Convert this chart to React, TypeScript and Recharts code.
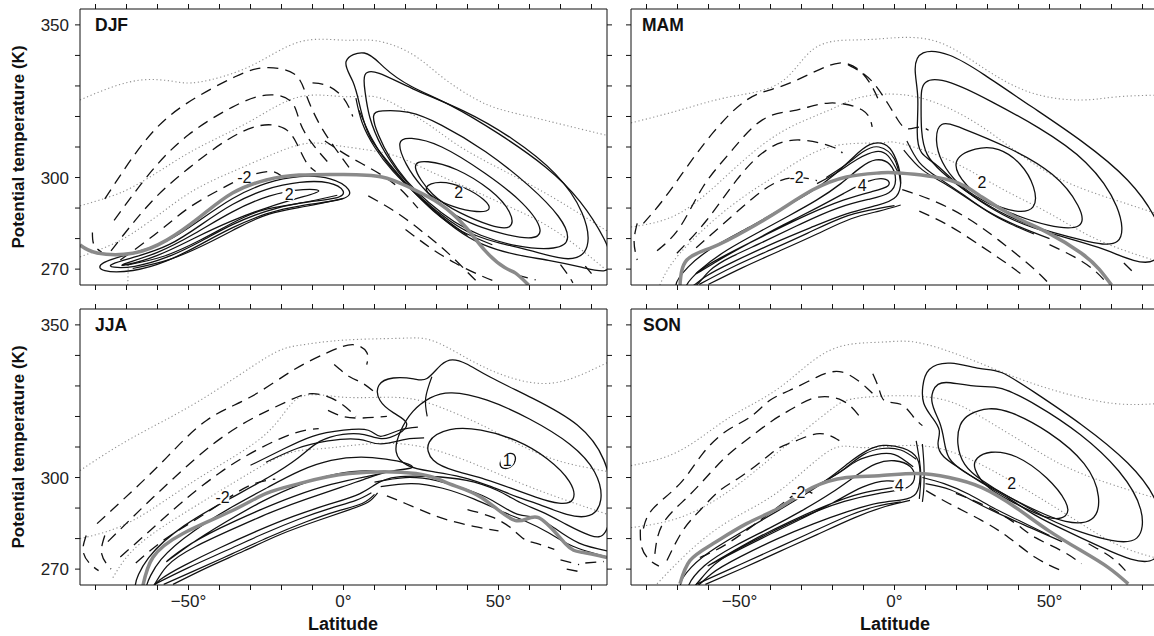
import React from 'react';
import { LineChart, Line, XAxis, YAxis, ReferenceDot } from 'recharts';

type P = [number, number];
interface Lab { lat: number; t: number; v: string }

const LAT_TICKS = [-80, -70, -60, -50, -40, -30, -20, -10, 0, 10, 20, 30, 40, 50, 60, 70, 80];
const LAT_LABELS = [-50, 0, 50];
const THETA_TICKS = [270, 280, 290, 300, 310, 320, 330, 340, 350];
const THETA_LABELS = [270, 300, 350];
const LAT_DOMAIN: [number, number] = [-85, 85];
const THETA_DOMAIN: [number, number] = [264.8, 355.2];

// ---------- DJF ----------
const DJF_DOTTED: P[][] = [
  [[-85, 325.4], [-75, 329.5], [-64.7, 332], [-55, 331.5], [-46.4, 331.3], [-30, 336.5], [-14.3, 344.4], [0, 345], [10.5, 344.8], [22, 340.5], [31.7, 333], [41.4, 326.4], [50, 322.5], [60.7, 319.8], [72, 317], [85, 313.8]],
  [[-85, 290.7], [-76, 293.5], [-68, 296.9], [-58, 303], [-46.4, 310], [-30, 318.5], [-14.3, 326.4], [0, 326.5], [10.5, 326.4], [20, 322], [28.5, 316.6], [39.4, 309], [55.5, 300.2], [70, 292], [85, 282.5]],
  [[-85, 274], [-76, 277.5], [-68, 281.8], [-58, 289], [-46.4, 296.9], [-30, 304.5], [-14.3, 310.7], [-3.6, 310.7], [8, 309], [17.9, 306.7], [28, 302], [39.4, 296.9], [50, 292], [60.7, 287], [72, 280], [85, 269.5]],
  [[-69.6, 264.8], [-69.4, 272]],
];
const DJF_SURFACE: P[] = [[-85, 277.9], [-79.5, 275.3], [-68, 275.2], [-57, 279.5], [-46.4, 287], [-35.8, 294.9], [-24.9, 299.2], [-14.3, 300.8], [0, 301], [12.4, 300.2], [21, 296.9], [30.8, 291.6], [39.4, 283.8], [45.9, 275.8], [52, 270.5], [55.5, 268.7], [59.7, 264.8]];
const DJF_POS: P[][] = [
  [[-79.5, 272], [-68, 275.2], [-57, 278.5], [-46.4, 286], [-35.8, 293.6], [-24.9, 298.5], [-14.3, 300.8], [-3.6, 300.2], [2.8, 296], [1.8, 292.6], [-14.3, 291], [-24.9, 288.4], [-35.8, 283.8], [-46.4, 277.9], [-57, 272.3], [-68, 269], [-78.6, 269]],
  [[-76, 271.5], [-67, 274], [-56, 277.5], [-46, 284.5], [-36, 291.5], [-25, 296.5], [-14, 298.8], [-4, 298.8], [1, 295.5], [-1, 293], [-14, 292], [-25, 289.2], [-36, 284.8], [-46, 279], [-57, 273.5], [-68, 270.4], [-75, 270.5]],
  [[-72, 271.5], [-60, 275], [-48, 281.5], [-36, 289], [-24, 294.5], [-12, 296.5], [-6, 295.8], [-12, 294], [-24, 290.5], [-36, 286], [-48, 280.3], [-60, 274], [-72, 270.8]],
  [[-1.4, 338.5], [7.3, 342.5], [12.4, 336.2], [21.1, 329.7], [34, 324.4], [50, 314.6], [66, 303.4], [76.7, 292.6], [85, 279], [87, 272], [85, 268.5], [76.7, 270.7], [66, 273], [56, 274.5], [45, 277.5], [36, 283], [27, 291], [20, 298], [14, 305.5], [8, 313], [5.5, 322], [3.5, 332]],
  [[6, 334.6], [10.5, 335.2], [21.1, 329.3], [39.4, 322], [54.2, 313.3], [69.3, 301.5], [78, 288.4], [80, 276.2], [73.5, 272], [60.7, 276.2], [50, 278.5], [42, 281], [35, 285], [25, 293], [18, 301], [12, 310], [8, 320], [7, 328]],
  [[8.9, 321], [11.5, 322], [21.1, 322], [30.8, 317.9], [45.9, 309], [60.7, 296.9], [70.3, 287], [73.5, 279.5], [69.3, 276.2], [55.5, 277.2], [43.6, 281.1], [36, 285], [27, 292], [20, 299], [15, 306], [11, 314]],
  [[17, 312.3], [21.1, 313.3], [30.8, 311.3], [45.9, 301.5], [58.7, 291.6], [65.2, 281.8], [60.7, 279.5], [50, 281.8], [40.4, 285], [32, 290], [25, 297], [20, 304]],
  [[21.1, 304.8], [26.6, 305.7], [36.2, 303.4], [48, 296], [54.6, 288.4], [54.6, 282.8], [48, 283.8], [37.2, 288.4], [28.5, 293.6]],
  [[25.3, 296.9], [30.8, 299.2], [39.4, 296.9], [45.9, 292.6], [48, 289.3], [43.6, 288.4], [35, 290.3], [28.5, 293.6]],
];
const DJF_BUNDLE: P[][] = [
  [[-70, 271.3], [-58, 274.2], [-46, 279.6], [-36, 285], [-26, 289.3], [-14, 291.6], [-2, 294.2]],
  [[-68, 270.2], [-56, 273.2], [-44, 278.4], [-34, 283.6], [-24, 288], [-12, 290.6], [0, 293.2]],
  [[4, 326], [6, 318], [10, 310], [16, 302], [24, 294], [32, 287], [40, 281]],
  [[5, 322], [9, 313], [14, 305], [21, 297], [29, 289], [38, 282.5], [48, 278]],
];
const DJF_NEG: P[][] = [
  [[-77, 293], [-64, 312], [-51, 324], [-35, 333], [-25, 336], [-16, 334], [-12, 327], [-8, 318], [-3, 310], [2, 303]],
  [[-74, 286], [-62, 302], [-50, 314], [-36, 323], [-25, 327], [-17, 325], [-14, 318], [-10, 311], [-5, 305]],
  [[-75, 276], [-62, 292], [-50, 303], [-38, 312], [-27, 317], [-19, 316], [-15, 311], [-12, 305], [-9, 302]],
  [[-72, 273], [-60, 282], [-50, 290], [-40, 296], [-32, 300], [-24, 302], [-20, 300.5]],
  [[-81, 282], [-80.5, 278], [-78, 275.5]],
  [[-10, 331], [-5, 330], [0, 326], [3, 320]],
  [[-6, 312], [0, 308], [6, 304.5], [12, 301], [18, 296.5], [24, 290]],
  [[8, 294], [14, 290.5], [20, 286.5], [27, 281], [34, 275], [40, 269], [44, 265]],
  [[20, 283], [28, 277], [36, 272], [44, 268], [50, 265.5]],
  [[56, 268], [62, 266.5]],
  [[70, 271.5], [72.5, 268], [74, 265.5]],
  [[78, 271], [80, 268.5]],
];
const DJF_LABELS: Lab[] = [{ lat: -32, t: 300, v: '-2' }, { lat: -17.5, t: 294.5, v: '2' }, { lat: 37.2, t: 295, v: '2' }];

// ---------- MAM ----------
const MAM_DOTTED: P[][] = [
  [[-85, 317.9], [-69.2, 322.1], [-53.2, 326.4], [-37, 331], [-26.5, 341.8], [-15.5, 345], [-5, 345.4], [12.1, 345], [28.2, 336.2], [44.3, 327.7], [60.3, 325.4], [71.3, 326.4], [85, 327]],
  [[-85, 283.8], [-69.2, 288.4], [-53.2, 301.5], [-37, 314.6], [-21, 322.1], [-10.4, 326.4], [7, 326.4], [28.2, 316.6], [49.7, 301.5], [71.3, 292.6], [85, 288]],
  [[-75.7, 264.8], [-69.2, 275.2], [-53.2, 290.3], [-37, 301.5], [-21, 310], [-5, 311.3], [1.5, 311.3], [17.6, 305.7], [33.6, 296.9], [49.7, 288.4], [65.8, 279.5], [85, 272.5]],
];
const MAM_SURFACE: P[] = [[-69.2, 264.8], [-67, 273], [-58.6, 277.2], [-47.7, 282.8], [-37, 289.3], [-26.5, 295.9], [-15.5, 300.2], [-5, 301.5], [1.5, 301.5], [17.6, 299.2], [28.2, 293.6], [39.1, 287], [49.7, 281.8], [60.3, 275.2], [66, 270], [70, 264.8]];
const MAM_POS: P[][] = [
  [[-72.5, 263], [-67, 271], [-58.6, 277.5], [-47, 283.5], [-37, 289.5], [-27, 295], [-19, 301], [-13, 307], [-8, 311.5], [-3, 311.5], [0, 308], [2.5, 300], [1.5, 293], [-5, 291], [-15.5, 288.4], [-26, 284], [-37, 279.5], [-53, 272], [-62, 267.4], [-66, 263]],
  [[-69, 263], [-63, 270], [-54, 276.5], [-44, 282], [-34, 287.5], [-25, 292.5], [-17, 298], [-11, 303.5], [-6, 306.5], [-1, 305], [1, 299], [-1, 294.5], [-8, 293], [-18, 290.5], [-30, 285], [-42, 279], [-53, 274], [-60, 270], [-64.5, 263]],
  [[-66, 267], [-56, 273.5], [-46, 279], [-36, 284.5], [-26, 289.5], [-16, 295], [-8, 299.5], [-2, 300], [-1, 297], [-7, 295.5], [-16, 293], [-28, 288], [-40, 282], [-52, 276], [-62, 270.5]],
  [[7, 314], [8, 327], [6, 336], [8, 342], [17.6, 341], [28.2, 334.3], [44.3, 323.1], [60.3, 312.3], [76.4, 299.2], [85, 286], [87, 279], [85, 272], [77.7, 272], [66.8, 277.2], [49.7, 281.8], [39, 285.5], [30.4, 290.3], [20.8, 296.9], [13.4, 304.8], [8, 307.5]],
  [[8.6, 332.6], [17.6, 332], [30.4, 325.4], [46.5, 316.6], [62.6, 305.7], [73.2, 290.3], [74.5, 276.2], [60.3, 279.5], [44.3, 283.8], [33, 289], [22, 296], [15, 302], [10, 307], [8.5, 315], [8.6, 325]],
  [[14.4, 318.9], [20.8, 316.6], [36.9, 310], [52, 301.5], [60.3, 290.3], [61.6, 282.8], [49.7, 283.8], [36.9, 288.4], [28, 292.5], [20, 298], [15, 305], [13, 312]],
  [[17.6, 305.7], [26.3, 310], [33.6, 310], [41, 304.8], [45.5, 296.9], [45.9, 289.3], [39.1, 288.4], [30.4, 291.6], [23, 296.9]],
];
const MAM_BUNDLE: P[][] = [
  [[-63, 265], [-52, 270.8], [-40, 276.3], [-28, 281.8], [-17, 286.8], [-8, 289.3], [0, 290.8]],
  [[-60, 265], [-49, 270.5], [-37, 276], [-25, 281.5], [-14, 286.5], [-5, 289], [2, 291]],
  [[-22, 300], [-16, 304], [-10, 308.5], [-5, 310], [0, 306], [2, 298]],
  [[-25, 298], [-18, 302], [-12, 306], [-6, 308.5], [-2, 307], [1, 302]],
  [[4, 312], [8, 305], [14, 300], [22, 294.5], [30, 289], [40, 284], [50, 280]],
  [[3, 309], [9, 302.5], [17, 297.5], [26, 291.5], [35, 286], [45, 281.5]],
];
const MAM_NEG: P[][] = [
  [[-81, 285], [-74.7, 292.6], [-67, 303.4], [-58.6, 314.6], [-47.7, 325.4], [-37, 329.7], [-26.5, 334.3], [-17.8, 337.5], [-11.4, 335.2], [-7.2, 329.7], [-5, 325]],
  [[-76.6, 276], [-69.2, 283.8], [-61.8, 296.9], [-53.2, 308], [-42.6, 318.9], [-31.6, 322.1], [-21, 324.4], [-10.4, 322.1], [-7.2, 316.6]],
  [[-70.2, 275.2], [-60.6, 286], [-50.9, 299.2], [-41.3, 309], [-30.7, 312.3], [-20, 310], [-16.8, 308]],
  [[-64, 277], [-55, 285], [-46, 293], [-38, 298.5], [-31, 300], [-25, 299]],
  [[-83, 285], [-84, 279], [-83, 273]],
  [[-15, 337], [-10, 334], [-6, 330], [-2, 324], [1, 319], [4, 316], [8, 316.5], [11, 315.5]],
  [[2.5, 296], [12.1, 292.6], [23, 287], [33.6, 279.5], [44.3, 270.7], [49.7, 265.4]],
  [[8, 289], [18, 284], [28, 277.5], [36, 272], [42, 267.5]],
  [[50, 278], [58, 274], [64, 270], [68, 266]],
  [[74, 272], [78, 268]],
];
const MAM_LABELS: Lab[] = [{ lat: -31.6, t: 300, v: '-2' }, { lat: -10.4, t: 297.5, v: '4' }, { lat: 28.2, t: 298.5, v: '2' }];

// ---------- JJA ----------
const JJA_DOTTED: P[][] = [
  [[-85, 302.3], [-68, 313.1], [-46.4, 325.2], [-24.9, 339.3], [-14.3, 343.3], [0, 345], [17.9, 345.6], [28.5, 344.9], [39.4, 339.3], [50, 334.1], [60.7, 331.1], [71.6, 331.8], [85, 337.6]],
  [[-85, 280], [-68, 285.9], [-46.4, 300], [-24.9, 314.4], [-14.3, 326.2], [0, 326.3], [17.9, 326.2], [30, 323.5], [39.4, 319.6], [50, 314.4], [66, 306.6], [85, 302]],
  [[-74.4, 267.2], [-65.7, 278.3], [-46.4, 291.5], [-24.9, 304.6], [-14.3, 308.8], [-3.6, 309.8], [17.9, 311.1], [39.4, 305.6], [60.7, 296.7], [85, 288]],
];
const JJA_SURFACE: P[] = [[-64.7, 264.6], [-61.5, 273.8], [-51.9, 281.6], [-35.8, 289.2], [-24.9, 294.8], [-14.3, 298], [1.8, 301.3], [23.4, 301.3], [34, 298], [44.6, 293.4], [55.5, 285.9], [62.9, 286.9], [71.6, 278.3], [77, 275.5], [85, 273.8]];
const JJA_POS: P[][] = [
  [[-69, 262], [-64, 274], [-52, 284.5], [-36, 293.5], [-24, 300], [-14, 306.5], [-8, 312.5], [0, 314.5], [7, 314.5], [12, 312], [18, 314], [22, 318], [16, 321], [11, 325], [10.5, 330.8], [15.6, 333.1], [23.4, 332.4], [26.6, 331.1], [31.7, 337.7], [35, 339], [39.4, 337.7], [45.9, 333.4], [60.7, 326.2], [76.7, 317.7], [85, 306], [87, 293], [85, 280], [80, 280.5], [72, 284.5], [64, 289], [57, 291.5], [50, 296], [40, 299.5], [28, 300.5], [16, 300.5], [11, 298.5], [6, 294.5], [-4, 291.5], [-16, 287.5], [-28, 282.5], [-40, 277], [-52, 271], [-60, 266.5], [-63, 262]],
  [[22, 322], [28, 326.5], [34, 328.5], [46, 326], [60, 319.5], [74, 311], [82, 302], [84, 292], [80, 286.5], [72, 287.5], [64, 291], [56, 293.5], [48, 297], [38, 300.5], [28, 302], [20, 303.5], [16, 308], [18, 315]],
  [[26, 312], [34, 316.5], [44, 316], [56, 312.5], [66, 306.5], [74, 298.5], [75, 292], [70, 291], [62, 293.5], [54, 296.5], [46, 299.5], [36, 302], [28, 305]],
  [[50, 305], [53, 308.5], [56, 307.5], [55, 303.5], [51, 302.5]],
  [[-65, 262], [-60, 273.5], [-48, 283], [-36, 290.5], [-24, 297], [-14, 302.5], [-4, 306], [6, 307], [14, 306], [20, 305], [24, 303], [16, 302.5], [8, 300], [0, 297], [-12, 293], [-24, 288.5], [-36, 283], [-48, 277.5], [-58, 271.5], [-62, 262]],
  [[-60, 270], [-50, 278], [-38, 285.5], [-26, 292.5], [-14, 298], [-2, 301.5], [8, 302.5], [14, 301.5], [8, 300.5], [-4, 298], [-16, 294], [-28, 289], [-40, 283.5], [-52, 277]],
];
const JJA_BUNDLE: P[][] = [
  [[-61, 265], [-50, 270.5], [-38, 276], [-26, 281.5], [-14, 286.5], [-4, 290], [4, 292.5], [9, 295]],
  [[-58, 265], [-48, 269.5], [-36, 275], [-24, 280.5], [-12, 285.5], [-2, 289], [6, 291.5], [10, 294.5]],
  [[-55, 265], [-44, 270.5], [-32, 276], [-20, 281.5], [-8, 286], [2, 289.5], [8, 292], [11, 295]],
  [[-30, 304], [-20, 309], [-10, 313.5], [0, 315.5], [8, 315.5], [12, 313.5], [18, 315.5], [24, 316.5]],
  [[-25, 305], [-15, 309.5], [-5, 312], [5, 312.5], [12, 311], [20, 312.5], [26, 313]],
  [[10, 298.5], [20, 300], [30, 299], [40, 296], [48, 292.5], [56, 288], [62, 287], [68, 283.5], [76, 278.5], [85, 276]],
  [[12, 297], [22, 298], [32, 296.5], [42, 293], [52, 288.5], [58, 286], [66, 282], [74, 277.5], [85, 274]],
  [[27, 320], [26.5, 326], [28.5, 333]],
];
const JJA_NEG: P[][] = [
  [[-79.5, 284.9], [-68, 295.7], [-57, 306.6], [-44.2, 318.7], [-30.3, 326.2], [-16.5, 335], [-5, 341], [3, 343.5], [7.5, 341], [7.5, 337]],
  [[-76, 279], [-65, 290], [-54, 300.5], [-42, 311], [-30, 319], [-18, 325], [-10, 327.5], [-2, 325], [4, 320]],
  [[-72, 274], [-62, 283], [-52, 292], [-40, 301.5], [-28, 309], [-16, 314.5], [-8, 316]],
  [[-67, 272], [-58, 279.5], [-48, 286], [-39, 292], [-30, 297.5], [-22, 299.5]],
  [[-83, 281], [-84, 276], [-82, 272], [-79, 269.5]],
  [[-77, 281], [-78, 275], [-75, 270]],
  [[-3, 337], [2, 333], [6, 331], [10, 328]],
  [[-5, 322], [0, 320], [6, 319.5], [14, 320]],
  [[14, 294], [20, 291.5], [27, 288.5], [34, 286], [42, 284], [50, 282.5]],
  [[40, 289.5], [48, 287], [54, 283.5], [58, 280], [62, 278.5], [68, 276.5]],
  [[70, 273], [76, 271.5]],
  [[78, 272], [84, 272.5]],
  [[72, 270], [77, 269]],
];
const JJA_LABELS: Lab[] = [{ lat: -39, t: 293.5, v: '-2' }, { lat: 52.8, t: 305.5, v: '1' }];

// ---------- SON ----------
const SON_DOTTED: P[][] = [
  [[-85, 303.9], [-69.2, 308.8], [-53.2, 319.7], [-37, 329.5], [-21, 341.6], [-5, 344.3], [7, 344.3], [23, 339.3], [39.1, 332.8], [55.2, 327.5], [71.3, 324.2], [85, 324.2]],
  [[-85, 283.6], [-69.2, 286.9], [-53.2, 295.7], [-37, 308.8], [-21, 321.9], [-10.4, 326.2], [12.1, 326.2], [28.2, 319.7], [44.3, 309.8], [60.3, 301.3], [85, 293]],
  [[-76.6, 265.2], [-66, 276], [-53.2, 285.9], [-37, 295.7], [-21, 308.8], [-10.4, 309.8], [7, 310.5], [23, 306.6], [39.1, 298], [55.2, 288.1], [71.3, 278.3], [85, 273.5]],
];
const SON_SURFACE: P[] = [[-69.2, 265.2], [-66, 272.8], [-58.6, 278.3], [-47.7, 284.9], [-37, 290.2], [-26.5, 296.7], [-15.5, 300], [-5, 300.6], [7, 301.3], [17.6, 300], [28.2, 296.7], [39.1, 290.2], [49.7, 282.6], [60.3, 276], [69, 270.5], [75.4, 265.2]];
const SON_POS: P[][] = [
  [[-71, 263], [-66, 271], [-58, 277], [-47, 283.5], [-37, 289.5], [-27, 295.5], [-20, 300.5], [-14, 305.5], [-9, 309], [-4, 311], [3, 310], [8, 307], [8.5, 300], [7.5, 294], [3, 292.5], [-5, 292], [-15, 289], [-26, 285], [-38, 280], [-50, 274], [-60, 268.5], [-64, 263]],
  [[-68, 263], [-62, 271.5], [-52, 277.5], [-40, 283.5], [-30, 289], [-20, 295], [-12, 301], [-6, 305], [0, 306], [6, 304], [7, 299], [4, 296], [-5, 295], [-16, 292.5], [-28, 288], [-40, 282], [-52, 276], [-60, 270.5], [-65, 263]],
  [[-63, 269.5], [-52, 275.5], [-40, 281.5], [-30, 286.5], [-20, 291.5], [-10, 297.5], [-2, 299.5], [3, 298], [0, 296.5], [-10, 295.5], [-22, 291], [-34, 285.5], [-46, 279.5], [-56, 273.5]],
  [[8.9, 329.5], [10.2, 336.1], [17.6, 338.4], [28.2, 335.1], [33.6, 335.7], [44.3, 328.5], [60.3, 317.7], [76.4, 304.6], [85, 293], [87, 282], [85, 271.5], [76.4, 272.8], [66.8, 277.1], [55.2, 282.6], [45, 287.5], [36.9, 293.4], [28.2, 298], [20.8, 303.3], [15.3, 306.6], [13.4, 311.1], [15.3, 315.4], [12.1, 319.7], [8.9, 324.2]],
  [[11, 325], [13.4, 331.8], [19.8, 330.8], [28.2, 329.5], [33.6, 330.2], [45.5, 324.2], [60.3, 314.4], [73.2, 302.3], [80.9, 289.2], [79.6, 278.3], [70, 279], [60, 282], [50, 286], [40, 292], [30, 297.5], [22, 302], [17, 306], [16, 312], [15, 318]],
  [[20.8, 317.7], [24, 321], [30.4, 323], [36.9, 322], [49.7, 315.4], [62.6, 304.6], [66.8, 293.4], [64.8, 284.9], [55.2, 284.9], [45.5, 289.2], [36, 294], [28, 299], [22, 304], [20, 311]],
  [[25, 303.3], [26.3, 306.6], [30.4, 308.8], [39.1, 307.9], [49.7, 300], [56.2, 291.5], [56.2, 286.9], [49.7, 285.9], [39.1, 291.5], [30, 296]],
];
const SON_BUNDLE: P[][] = [
  [[-64, 265], [-52, 270.5], [-40, 276], [-28, 281.5], [-16, 287], [-6, 290.5], [2, 292]],
  [[-61, 265], [-49, 270.3], [-37, 275.8], [-25, 281.3], [-13, 286.8], [-3, 290.5], [5, 292.5]],
  [[-22, 299], [-16, 303], [-10, 307.5], [-4, 309.5], [2, 309], [7, 306]],
  [[-25, 297.5], [-18, 301.5], [-12, 305.5], [-6, 307.5], [0, 307.5], [6, 303.5]],
  [[7, 312], [8, 306], [8.5, 300], [8, 293]],
  [[9, 311], [9.5, 304], [9.5, 297], [9, 292]],
  [[9, 300], [16, 298], [24, 294.5], [32, 290], [40, 286], [50, 281]],
  [[10, 298], [18, 296], [26, 292], [34, 288], [44, 283.5], [54, 279]],
];
const SON_NEG: P[][] = [
  [[-81, 283.3], [-77.9, 289.8], [-69.2, 298], [-61.8, 307.9], [-54, 315.4], [-46.7, 319.7], [-40.3, 325.2], [-33.9, 328.5], [-25.2, 332.8], [-16.8, 334.5], [-9.1, 329.5], [-5.9, 326.2]],
  [[-77.3, 275], [-74.7, 284.9], [-67, 293.4], [-59.6, 301.3], [-53.2, 307.9], [-46.7, 313.1], [-39.3, 318.7], [-32.9, 322.6], [-25.2, 326.2], [-16.8, 325.2], [-11.4, 320.2]],
  [[-73.4, 272.8], [-68.3, 282.6], [-62.8, 289.2], [-56.4, 295.7], [-50, 300], [-42.6, 305.6], [-37.1, 309.8], [-31.6, 312.1], [-24.2, 314.4], [-17.8, 312.1]],
  [[-62.8, 273.8], [-54, 278.3], [-43.5, 285.9], [-34.8, 292.5], [-29.7, 295.8], [-26.5, 294.8]],
  [[-82, 283], [-81.5, 277], [-79, 273], [-76, 271]],
  [[-7, 334], [-5, 329], [-3, 325], [2, 324], [6, 320], [9, 317]],
  [[10.2, 295.7], [17.6, 291.5], [28.2, 285.9], [36.9, 280.3], [45.5, 273.8], [53.9, 269.5]],
  [[19.8, 294.8], [30.4, 290.2], [39.1, 284.9], [45.5, 280.3], [53.9, 276], [60.3, 271.8]],
  [[62.6, 278.3], [70, 273.8], [74.5, 269.5]],
];
const SON_LABELS: Lab[] = [{ lat: -31, t: 295, v: '-2' }, { lat: 1.5, t: 297.3, v: '4' }, { lat: 37.8, t: 298, v: '2' }];

interface Season {
  name: string;
  dotted: P[][];
  surface: P[];
  pos: P[][];
  bundle: P[][];
  neg: P[][];
  labels: Lab[];
}

const SEASONS: Season[] = [
  { name: 'DJF', dotted: DJF_DOTTED, surface: DJF_SURFACE, pos: DJF_POS, bundle: DJF_BUNDLE, neg: DJF_NEG, labels: DJF_LABELS },
  { name: 'MAM', dotted: MAM_DOTTED, surface: MAM_SURFACE, pos: MAM_POS, bundle: MAM_BUNDLE, neg: MAM_NEG, labels: MAM_LABELS },
  { name: 'JJA', dotted: JJA_DOTTED, surface: JJA_SURFACE, pos: JJA_POS, bundle: JJA_BUNDLE, neg: JJA_NEG, labels: JJA_LABELS },
  { name: 'SON', dotted: SON_DOTTED, surface: SON_SURFACE, pos: SON_POS, bundle: SON_BUNDLE, neg: SON_NEG, labels: SON_LABELS },
];

const toPts = (arr: P[]) => arr.map(([lat, t]) => ({ lat, t }));

const INK = '#111';
const blank = () => '';

const common = {
  dot: false as const,
  activeDot: false as const,
  isAnimationActive: false,
  xAxisId: 'b',
  yAxisId: 'l',
  dataKey: 't',
  legendType: 'none' as const,
};

const Panel = ({ s, showY, showX }: { s: Season; showY: boolean; showX: boolean }) => {
  const height = showX ? 336 : 300;
  return (
    <LineChart width={620} height={height} margin={{ top: 0, right: 0, bottom: 0, left: 0 }}>
      <XAxis
        xAxisId="b"
        type="number"
        dataKey="lat"
        domain={LAT_DOMAIN}
        allowDataOverflow
        ticks={LAT_TICKS}
        interval={0}
        height={showX ? 51 : 15}
        tickSize={5}
        tickMargin={5}
        stroke={INK}
        tick={{ fill: '#222', fontSize: 17 }}
        tickFormatter={showX ? (v: number) => (LAT_LABELS.includes(v) ? `${v < 0 ? '\u2212' + Math.abs(v) : v}°` : '') : blank}
      />
      <XAxis
        xAxisId="t"
        orientation="top"
        type="number"
        dataKey="lat"
        domain={LAT_DOMAIN}
        allowDataOverflow
        ticks={LAT_TICKS}
        interval={0}
        height={9}
        tickSize={5}
        stroke={INK}
        tickFormatter={blank}
      />
      <YAxis
        yAxisId="l"
        type="number"
        domain={THETA_DOMAIN}
        allowDataOverflow
        ticks={THETA_TICKS}
        interval={0}
        width={80}
        tickSize={5}
        tickMargin={6}
        stroke={INK}
        tick={{ fill: '#222', fontSize: 17 }}
        tickFormatter={showY ? (v: number) => (THETA_LABELS.includes(v) ? String(v) : '') : blank}
        label={
          showY
            ? {
                value: 'Potential temperature (K)',
                angle: -90,
                position: 'insideLeft',
                offset: 18,
                style: { textAnchor: 'middle', fontWeight: 'bold', fontSize: 17, fill: INK },
              }
            : undefined
        }
      />
      <YAxis
        yAxisId="r"
        orientation="right"
        type="number"
        domain={THETA_DOMAIN}
        allowDataOverflow
        ticks={THETA_TICKS}
        interval={0}
        width={13}
        tickSize={5}
        stroke={INK}
        tickFormatter={blank}
      />
      {s.dotted.map((d, i) => (
        <Line key={`dot${i}`} {...common} data={toPts(d)} type="natural" stroke="#8f8f8f" strokeWidth={1.1} strokeDasharray="1.2 2.6" />
      ))}
      {s.neg.map((d, i) => (
        <Line key={`neg${i}`} {...common} data={toPts(d)} type="natural" stroke={INK} strokeWidth={1.3} strokeDasharray="11 7" />
      ))}
      {s.bundle.map((d, i) => (
        <Line key={`bun${i}`} {...common} data={toPts(d)} type="natural" stroke={INK} strokeWidth={1.2} />
      ))}
      {s.pos.map((d, i) => (
        <Line key={`pos${i}`} {...common} data={toPts(d)} type="basisClosed" stroke={INK} strokeWidth={1.3} />
      ))}
      <Line {...common} data={toPts(s.surface)} type="natural" stroke="#8a8a8a" strokeWidth={3.5} />
      {s.labels.map((l, i) => (
        <ReferenceDot
          key={`lab${i}`}
          xAxisId="b"
          yAxisId="l"
          x={l.lat}
          y={l.t}
          r={7}
          fill="#fff"
          stroke="none"
          label={{ value: l.v, position: 'center', fill: INK, fontSize: 16 }}
        />
      ))}
    </LineChart>
  );
};

const seasonLabel: React.CSSProperties = {
  position: 'absolute',
  fontWeight: 'bold',
  fontSize: 17.5,
  lineHeight: '18px',
  color: INK,
};

export default function App() {
  return (
    <div
      style={{
        position: 'absolute',
        left: 0,
        top: 0,
        width: 1154,
        height: 636,
        overflow: 'hidden',
        background: '#fff',
        fontFamily: '"Liberation Sans", Arial, Helvetica, sans-serif',
      }}
    >
      <div style={{ position: 'absolute', left: 0, top: 0 }}>
        <Panel s={SEASONS[0]} showY showX={false} />
      </div>
      <div style={{ position: 'absolute', left: 551, top: 0 }}>
        <Panel s={SEASONS[1]} showY={false} showX={false} />
      </div>
      <div style={{ position: 'absolute', left: 0, top: 300 }}>
        <Panel s={SEASONS[2]} showY showX />
      </div>
      <div style={{ position: 'absolute', left: 551, top: 300 }}>
        <Panel s={SEASONS[3]} showY={false} showX />
      </div>
      <div style={{ ...seasonLabel, left: 95, top: 16 }}>DJF</div>
      <div style={{ ...seasonLabel, left: 642, top: 16 }}>MAM</div>
      <div style={{ ...seasonLabel, left: 95, top: 316 }}>JJA</div>
      <div style={{ ...seasonLabel, left: 643, top: 316 }}>SON</div>
      <div style={{ position: 'absolute', left: 263, width: 160, textAlign: 'center', top: 614, fontWeight: 'bold', fontSize: 18, lineHeight: '20px', color: INK }}>
        Latitude
      </div>
      <div style={{ position: 'absolute', left: 815, width: 160, textAlign: 'center', top: 614, fontWeight: 'bold', fontSize: 18, lineHeight: '20px', color: INK }}>
        Latitude
      </div>
    </div>
  );
}
